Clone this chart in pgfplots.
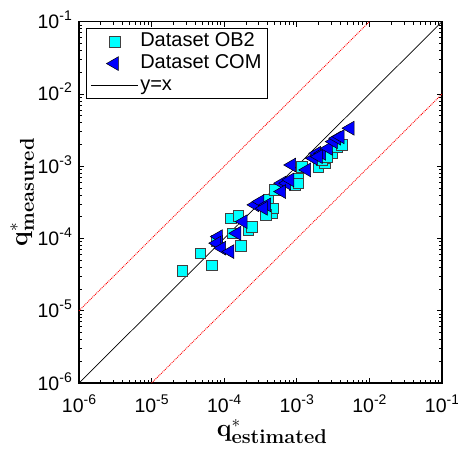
\documentclass[border=0pt]{standalone}
\usepackage[no-math]{fontspec}
\newfontfamily\arial{Liberation Sans}
\usepackage{pgfplots}
\pgfplotsset{compat=1.18}
\definecolor{mcyan}{RGB}{0,255,255}
\definecolor{mblue}{RGB}{0,0,255}
\newcommand{\tl}[1]{10\raisebox{8pt}{\fontsize{14}{14}\selectfont #1}}
\begin{document}
\begin{tikzpicture}
\begin{axis}[
  name=ax,
  width=363pt, height=361.3pt, scale only axis,
  xmode=log, ymode=log,
  xmin=1e-6, xmax=1e-1, ymin=1e-6, ymax=1e-1,
  xtick={1e-6,1e-5,1e-4,1e-3,1e-2,1e-1},
  ytick={1e-6,1e-5,1e-4,1e-3,1e-2,1e-1},
  xticklabels={\tl{-6},\tl{-5},\tl{-4},\tl{-3},\tl{-2},\tl{-1}},
  yticklabels={\tl{-6},\tl{-5},\tl{-4},\tl{-3},\tl{-2},\tl{-1}},
  minor xtick={2e-6,3e-6,4e-6,5e-6,6e-6,7e-6,8e-6,9e-6,2e-5,3e-5,4e-5,5e-5,6e-5,7e-5,8e-5,9e-5,2e-4,3e-4,4e-4,5e-4,6e-4,7e-4,8e-4,9e-4,2e-3,3e-3,4e-3,5e-3,6e-3,7e-3,8e-3,9e-3,2e-2,3e-2,4e-2,5e-2,6e-2,7e-2,8e-2,9e-2},
  minor ytick={2e-6,3e-6,4e-6,5e-6,6e-6,7e-6,8e-6,9e-6,2e-5,3e-5,4e-5,5e-5,6e-5,7e-5,8e-5,9e-5,2e-4,3e-4,4e-4,5e-4,6e-4,7e-4,8e-4,9e-4,2e-3,3e-3,4e-3,5e-3,6e-3,7e-3,8e-3,9e-3,2e-2,3e-2,4e-2,5e-2,6e-2,7e-2,8e-2,9e-2},
  tick align=inside, xtick pos=both, ytick pos=both,
  major tick length=5pt, minor tick length=3pt,
  every tick/.style={black, line width=0.9pt},
  axis line style={line width=1.5pt},
  xticklabel style={font=\arial\fontsize{19.5}{20}\selectfont, anchor=north, text height=14pt, text depth=0pt, inner sep=0pt, yshift=-15pt},
  yticklabel style={font=\arial\fontsize{19.5}{20}\selectfont, anchor=east, text height=14pt, text depth=0pt, inner sep=0pt, xshift=-7pt},
  xlabel={\fontsize{25}{25}\selectfont$\mathbf{q}^{*}_{\mbox{\fontsize{20}{20}\selectfont\bfseries estimated}}$},
  ylabel={\fontsize{25}{25}\selectfont$\mathbf{q}^{*}_{\mbox{\fontsize{20}{20}\selectfont\bfseries measured}}$},
  xlabel style={at={(axis description cs:0.532,-0.1486)}, anchor=base, inner sep=0pt},
  ylabel style={at={(axis description cs:-0.1420,0.528)}, anchor=base, inner sep=0pt},
  legend style={at={(axis description cs:0.0193,0.9826)}, anchor=north west, draw=black, line width=1.2pt,
    font=\arial\fontsize{20}{20}\selectfont, cells={anchor=west}, inner xsep=4pt,
    nodes={text height=14pt, text depth=4pt}, row sep=0pt},
  legend image code/.code={\draw[mark repeat=2,mark phase=2,#1] plot coordinates {(0pt,0pt) (23.5pt,0pt) (47pt,0pt)};},
]
\addplot[red, densely dotted, line width=0.9pt, forget plot] coordinates {(1e-6,1e-5) (1e-2,1e-1)};
\addplot[red, densely dotted, line width=0.9pt, forget plot] coordinates {(1e-5,1e-6) (1e-1,1e-2)};
\addplot[black, line width=0.7pt, forget plot] coordinates {(1e-6,1e-6) (1e-1,1e-1)};
\addplot[only marks, mark=square*, mark size=5.3pt, mark options={fill=mcyan, draw=black!75, line width=0.5pt}] table {
x y
2.65e-5 3.56e-5
4.65e-5 6.22e-5
6.68e-5 4.25e-5
7.89e-5 9.27e-5
1.23e-4 1.91e-4
1.56e-4 2.06e-4
1.31e-4 1.18e-4
2.15e-4 1.32e-4
1.70e-4 7.91e-5
2.39e-4 1.46e-4
4.05e-4 3.42e-4
4.51e-4 2.24e-4
4.74e-4 2.62e-4
3.77e-4 2.12e-4
5.01e-4 4.70e-4
9.44e-4 5.51e-4
1.05e-3 6.82e-4
1.05e-3 5.82e-4
1.17e-3 9.86e-4
1.98e-3 9.86e-4
2.44e-3 1.10e-3
2.44e-3 1.29e-3
2.20e-3 1.22e-3
3.03e-3 1.51e-3
3.55e-3 1.87e-3
4.16e-3 1.97e-3
2.58e-3 1.36e-3
};
\addlegendentry{Dataset OB2}
\addplot[only marks, mark=triangle*, mark size=8pt, mark options={rotate=90, fill=mblue, draw=black, line width=0.5pt}] table {
x y
8.30e-5 1.06e-4
7.89e-5 8.61e-5
9.25e-5 7.35e-5
1.20e-4 6.59e-5
1.49e-4 1.18e-4
1.83e-4 1.71e-4
2.65e-4 2.92e-4
3.11e-4 3.24e-4
3.85e-4 2.92e-4
3.46e-4 2.62e-4
6.19e-4 5.82e-4
7.26e-4 5.82e-4
8.05e-4 6.47e-4
8.51e-4 1.04e-3
1.37e-3 8.89e-4
1.69e-3 1.29e-3
1.88e-3 1.51e-3
2.20e-3 1.51e-3
1.98e-3 1.36e-3
2.72e-3 1.77e-3
3.18e-3 2.19e-3
3.55e-3 2.44e-3
3.94e-3 2.56e-3
5.41e-3 3.36e-3
6.19e-4 4.46e-4
};
\addlegendentry{Dataset COM}
\addlegendimage{black, line width=0.7pt}
\addlegendentry{y=x}
\end{axis}
\pgfresetboundingbox
\path (ax.south west) ++(-79pt,-65pt) rectangle ++(458pt,448pt);
\end{tikzpicture}
\end{document}
